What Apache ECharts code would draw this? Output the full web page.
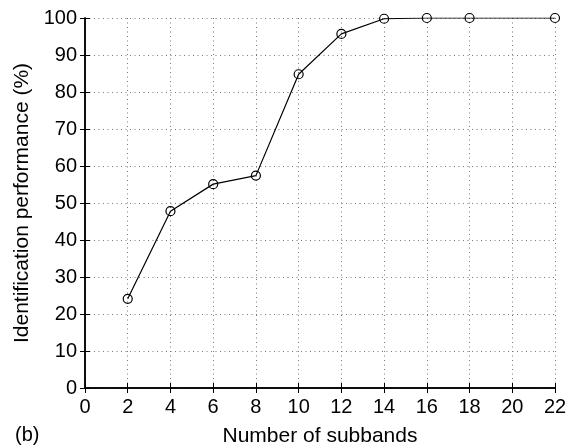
<!DOCTYPE html>
<html>
<head>
<meta charset="utf-8">
<script src="https://cdn.jsdelivr.net/npm/echarts@6/dist/echarts.min.js"></script>
<style>
  html, body { margin: 0; padding: 0; background: #fff; }
  #chart { width: 578px; height: 447px; }
</style>
</head>
<body>
<div id="chart"></div>
<script>
// number of subbands vs identification performance
var subbands = [2, 4, 6, 8, 10, 12, 14, 16, 18, 22];
var performance = [24.1, 47.8, 55.1, 57.4, 84.8, 95.7, 99.8, 100, 100, 100];

var font = 'Liberation Sans, Arial, Helvetica, sans-serif';
var points = subbands.map(function (x, i) { return [x, performance[i]]; });

var chart = echarts.init(document.getElementById('chart'));

var tickIn = { show: true, inside: true, length: 5, lineStyle: { color: '#000', width: 1 } };
var dotted = { show: true, lineStyle: { color: '#777', type: [1, 3.5], width: 1 } };

chart.setOption({
    animation: false,
    grid: { left: 85, top: 18, right: 23, bottom: 59, containLabel: false, outerBoundsMode: 'none' },
    title: {
        text: '(b)',
        left: 10,
        top: 420,
        textStyle: { fontFamily: font, fontSize: 20, fontWeight: 'normal', color: '#000' }
    },
    xAxis: [
        {
            type: 'value', min: 0, max: 22, interval: 2,
            name: 'Number of subbands', nameLocation: 'middle', nameGap: 38,
            nameTextStyle: { fontFamily: font, fontSize: 21, color: '#000' },
            axisLine: { show: true, onZero: false, lineStyle: { color: '#000', width: 1.5 } },
            axisTick: tickIn,
            axisLabel: { fontFamily: font, fontSize: 20, color: '#000', margin: 9 },
            splitLine: dotted
        },
        {
            type: 'value', min: 0, max: 22, interval: 2, position: 'top',
            axisLine: { show: true, lineStyle: { color: '#000', width: 1.5 } },
            axisTick: tickIn,
            axisLabel: { show: false },
            splitLine: { show: false }
        }
    ],
    yAxis: [
        {
            type: 'value', min: 0, max: 100, interval: 10,
            name: 'Identification performance (%)', nameLocation: 'middle', nameGap: 50,
            nameTextStyle: { fontFamily: font, fontSize: 21, color: '#000' },
            axisLine: { show: true, onZero: false, lineStyle: { color: '#000', width: 1.5 } },
            axisTick: tickIn,
            axisLabel: { fontFamily: font, fontSize: 20, color: '#000', margin: 8 },
            splitLine: dotted
        },
        {
            type: 'value', min: 0, max: 100, interval: 10, position: 'right',
            axisLine: { show: true, lineStyle: { color: '#000', width: 1.5 } },
            axisTick: tickIn,
            axisLabel: { show: false },
            splitLine: { show: false }
        }
    ],
    series: [
        {
            type: 'line',
            data: points,
            symbol: 'circle',
            symbolSize: 9,
            showAllSymbol: true,
            lineStyle: { color: '#000', width: 1.2 },
            itemStyle: { color: 'rgba(0,0,0,0)', borderColor: '#000', borderWidth: 1.2 }
        }
    ]
});
</script>
</body>
</html>
